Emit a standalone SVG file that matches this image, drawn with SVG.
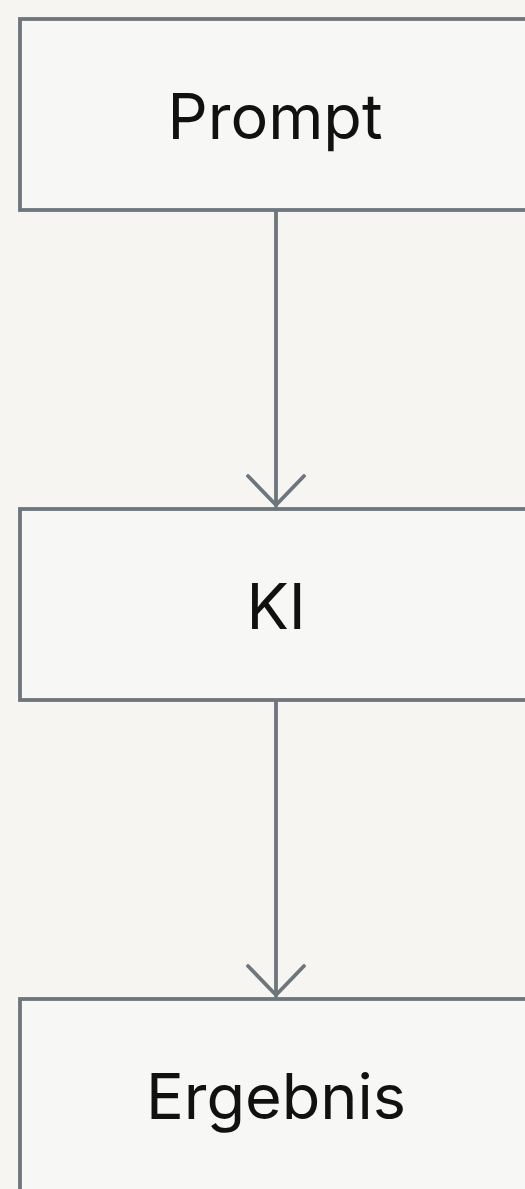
<svg xmlns="http://www.w3.org/2000/svg" width="525" height="1189" viewBox="0 0 525 1189">
<defs>
<style>
.box{fill:#f7f7f5;stroke:#6d757d;stroke-width:3.8}
.lbl{font-family:Inter,"Noto Sans",sans-serif;font-size:63px;fill:#111;text-anchor:middle}
.edge{fill:none;stroke:#6d757d;stroke-width:3.8;stroke-linecap:round;stroke-linejoin:round}
</style>
</defs>
<rect x="0" y="0" width="525" height="1189" fill="#f6f5f2"/>
<g id="connectors">
<path class="edge" d="M276 210 V506"/>
<path class="edge" d="M248 476 L276 505 L304 476"/>
<path class="edge" d="M276 700 V996"/>
<path class="edge" d="M248 966 L276 995 L304 966"/>
</g>
<g id="prompt">
<rect class="box" x="20" y="19" width="520" height="191"/>
<text class="lbl" x="275" y="139">Prompt</text>
</g>
<g id="ki">
<rect class="box" x="20" y="509" width="520" height="191"/>
<text class="lbl" x="276" y="629">KI</text>
</g>
<g id="ergebnis">
<rect class="box" x="20" y="999" width="520" height="200"/>
<text class="lbl" x="276" y="1119">Ergebnis</text>
</g>
</svg>
